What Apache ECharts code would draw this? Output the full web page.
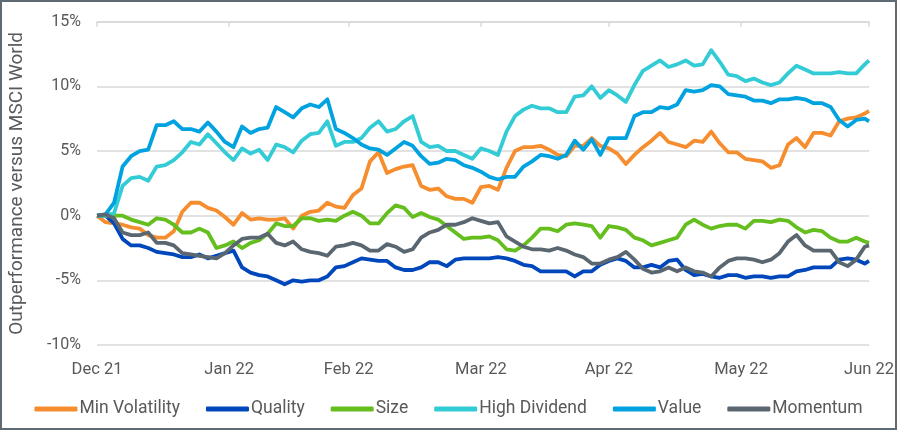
<!DOCTYPE html>
<html><head><meta charset="utf-8">
<script src="https://cdn.jsdelivr.net/npm/echarts@6/dist/echarts.min.js"></script>
<style>
html,body{margin:0;padding:0;background:#fff}
#frame{width:897px;height:430px;box-sizing:border-box;border:2px solid #5f6a72;position:relative;overflow:hidden}
#chart{position:absolute;left:-2px;top:-2px;width:897px;height:430px}
</style>
</head><body><div id="frame"><div id="chart"></div></div>
<script>
// x = calendar days since 31 Dec 2021
const days = [0,2,4,6,8,10,12,14,16,18,20,22,24,26,28,30,32,34,36,38,40,42,44,46,48,50,52,54,56,58,60,62,64,66,68,70,72,74,76,78,80,82,84,86,88,90,92,94,96,98,100,102,104,106,108,110,112,114,116,118,120,122,124,126,128,130,132,134,136,138,140,142,144,146,148,150,152,154,156,158,160,162,164,166,168,170,172,174,176,178,180,181];
const tickDays = [0,31,59,90,120,151,181];
const tickLabels = ['Dec 21','Jan 22','Feb 22','Mar 22','Apr 22','May 22','Jun 22'];
const yTicks = [-10,-5,0,5,10,15];

const seriesNames = ['Min Volatility','Quality','Size','High Dividend','Value','Momentum'];

const minVolatility = [0.0,-0.5,-0.6,-0.7,-0.9,-1.0,-1.5,-1.7,-1.7,-1.2,
 0.3,1.0,1.0,0.6,0.4,-0.1,-0.7,0.2,-0.3,-0.2,
 -0.3,-0.3,-0.2,-1.0,0.0,0.3,0.4,1.0,0.7,0.6,
 1.6,2.1,4.2,4.9,3.3,3.6,3.8,3.9,2.3,2.0,
 2.1,1.5,1.3,1.3,1.0,2.2,2.3,2.0,3.7,5.0,
 5.3,5.3,5.4,5.1,4.7,4.6,5.4,5.4,6.0,5.4,
 5.2,4.8,4.0,4.7,5.3,5.8,6.4,5.7,5.5,5.3,
 5.8,5.7,6.5,5.6,4.9,4.9,4.4,4.3,4.2,3.7,
 3.9,5.5,6.0,5.3,6.4,6.4,6.2,7.3,7.5,7.6,
 7.9,8.1];
const quality = [0.0,0.0,-0.6,-1.8,-2.3,-2.3,-2.5,-2.8,-2.9,-3.0,
 -3.2,-3.2,-3.0,-3.3,-3.1,-2.9,-2.7,-4.0,-4.4,-4.6,
 -4.7,-5.0,-5.3,-5.0,-5.1,-5.0,-5.0,-4.7,-4.0,-3.9,
 -3.6,-3.3,-3.4,-3.5,-3.5,-4.0,-4.2,-4.2,-4.0,-3.6,
 -3.6,-3.9,-3.4,-3.3,-3.3,-3.3,-3.3,-3.2,-3.3,-3.5,
 -3.8,-3.9,-4.3,-4.3,-4.3,-4.3,-4.7,-4.3,-4.3,-3.8,
 -3.5,-3.3,-3.5,-4.0,-4.0,-3.8,-4.0,-3.5,-3.4,-4.2,
 -4.6,-4.5,-4.7,-4.8,-4.6,-4.6,-4.8,-4.7,-4.7,-4.8,
 -4.7,-4.7,-4.3,-4.2,-4.0,-4.0,-4.0,-3.4,-3.3,-3.4,
 -3.7,-3.5];
const size = [0.0,0.0,0.0,0.0,-0.3,-0.5,-0.7,-0.2,-0.3,-0.7,
 -1.3,-1.3,-1.0,-1.3,-2.5,-2.3,-2.0,-2.5,-2.1,-1.9,
 -1.4,-0.6,-0.8,-0.8,-0.2,-0.2,-0.4,-0.3,-0.4,0.0,
 0.3,0.0,-0.6,-0.6,0.2,0.8,0.6,-0.1,0.2,-0.1,
 -0.3,-0.8,-1.3,-1.8,-1.7,-1.7,-1.6,-1.9,-2.6,-2.7,
 -2.3,-1.7,-1.0,-1.0,-1.2,-0.7,-0.6,-0.7,-0.8,-1.7,
 -0.8,-0.9,-1.1,-1.7,-1.9,-2.3,-2.1,-1.9,-1.7,-0.7,
 -0.3,-0.7,-1.0,-0.8,-0.7,-0.7,-1.0,-0.4,-0.4,-0.5,
 -0.3,-0.4,-0.9,-1.3,-1.1,-1.2,-1.7,-2.0,-2.0,-1.7,
 -2.0,-2.1];
const highDividend = [0.0,0.0,0.2,2.3,2.9,3.0,2.7,3.8,3.9,4.3,
 4.9,5.7,5.5,6.3,5.6,4.9,4.3,5.2,4.8,5.1,
 4.3,5.5,5.3,4.9,5.8,6.3,6.4,7.3,5.4,5.7,
 5.7,6.0,6.8,7.3,6.5,6.7,7.3,7.7,5.7,5.3,
 5.4,5.0,5.0,4.7,4.4,5.2,5.0,4.7,6.5,7.7,
 8.2,8.5,8.3,8.3,8.0,8.0,9.2,9.3,10.0,9.1,
 9.7,9.3,8.8,10.1,11.2,11.6,12.0,11.5,11.7,12.0,
 11.6,11.7,12.8,11.9,10.9,10.8,10.4,10.6,10.3,10.1,
 10.3,11.0,11.6,11.3,11.0,11.0,11.0,11.1,11.0,11.0,
 11.7,12.0];
const value = [0.0,0.1,1.0,3.8,4.6,5.0,5.1,7.0,7.0,7.3,
 6.7,6.7,6.5,7.2,6.5,5.7,5.3,6.9,6.4,6.7,
 6.8,8.4,8.0,7.6,8.3,8.6,8.4,9.0,6.7,6.4,
 6.0,5.5,5.2,5.1,4.7,5.2,5.7,5.4,4.6,4.0,
 4.1,4.4,4.3,3.9,3.7,3.4,3.0,2.8,3.0,3.0,
 3.8,4.2,4.7,4.6,4.4,4.7,5.8,5.1,5.9,4.7,
 6.0,6.0,6.0,7.7,8.0,8.0,8.4,8.3,8.6,9.7,
 9.6,9.7,10.1,10.0,9.4,9.3,9.2,8.9,8.9,8.7,
 9.0,9.0,9.1,9.0,8.7,8.7,8.4,7.4,6.9,7.4,
 7.5,7.3];
const momentum = [0.0,0.1,-0.2,-1.3,-1.5,-1.5,-1.3,-2.1,-2.1,-2.3,
 -2.9,-3.0,-3.1,-3.2,-3.3,-2.9,-2.3,-1.8,-1.7,-1.7,
 -1.4,-2.1,-2.3,-2.0,-2.6,-2.8,-2.9,-3.1,-2.4,-2.3,
 -2.1,-2.3,-2.7,-2.7,-2.2,-2.4,-2.8,-2.6,-1.7,-1.3,
 -1.1,-0.7,-0.7,-0.5,-0.2,-0.4,-0.6,-0.5,-1.6,-2.0,
 -2.4,-2.6,-2.6,-2.7,-2.5,-2.7,-3.0,-3.2,-3.7,-3.7,
 -3.4,-3.2,-2.8,-3.4,-4.1,-4.4,-4.3,-4.0,-4.3,-4.0,
 -4.3,-4.4,-4.7,-4.0,-3.5,-3.3,-3.3,-3.4,-3.6,-3.4,
 -2.9,-2.0,-1.5,-2.3,-2.7,-2.7,-2.7,-3.6,-3.9,-3.4,
 -2.4,-2.3];

const seriesValues = [minVolatility, quality, size, highDividend, value, momentum];
const colors = ['#F68D2E','#0047BB','#64BE1E','#33CCD6','#00A3E0','#5B6770'];

const FONT = "Roboto, 'Noto Sans', sans-serif";
const TXT = '#595959';
const GRID = '#d9d9d9';

const chart = echarts.init(document.getElementById('chart'), null, {renderer:'canvas'});
chart.setOption({
  animation: false,
  color: colors,
  textStyle: {fontFamily: FONT},
  grid: {left: 97, right: 24, top: 21.7, bottom: 85},
  legend: {
    data: seriesNames, left: 'center', top: 395,
    icon: 'roundRect', itemWidth: 43, itemHeight: 5, itemGap: 26,
    textStyle: {fontSize: 17.5, color: TXT, fontFamily: FONT, padding: [0,0,0,-3]}
  },
  xAxis: [
    {type: 'value', min: 0, max: 181, position: 'bottom',
     axisLine: {show: false}, axisTick: {show: false}, splitLine: {show: false},
     axisLabel: {customValues: tickDays, margin: 16, fontSize: 16.5, color: TXT, fontFamily: FONT,
       formatter: v => tickLabels[tickDays.indexOf(Math.round(v))] || ''}},
    {type: 'value', min: 0, max: 181, position: 'top',
     axisLine: {show: true, onZero: true, lineStyle: {color: GRID, width: 1.5}},
     axisTick: {show: true, inside: true, length: 5, customValues: tickDays, lineStyle: {color: GRID, width: 1.5}},
     axisLabel: {show: false}, splitLine: {show: false}}
  ],
  yAxis: {
    type: 'value', min: yTicks[0], max: yTicks[yTicks.length-1], interval: 5,
    name: 'Outperformance versus MSCI World', nameLocation: 'middle', nameGap: 70,
    nameTextStyle: {fontSize: 19, color: TXT, fontFamily: FONT},
    axisLine: {show: false}, axisTick: {show: false},
    axisLabel: {formatter: '{value}%', margin: 16, fontSize: 16, color: TXT, fontFamily: FONT},
    splitLine: {lineStyle: {color: GRID, width: 1.5}}
  },
  series: seriesNames.map((name, i) => ({
    name, type: 'line', xAxisIndex: 0, showSymbol: false, symbol: 'none',
    lineStyle: {width: 3.8, color: colors[i], join: 'round'},
    data: days.map((d, j) => [d, seriesValues[i][j]])
  }))
});
</script></body></html>
